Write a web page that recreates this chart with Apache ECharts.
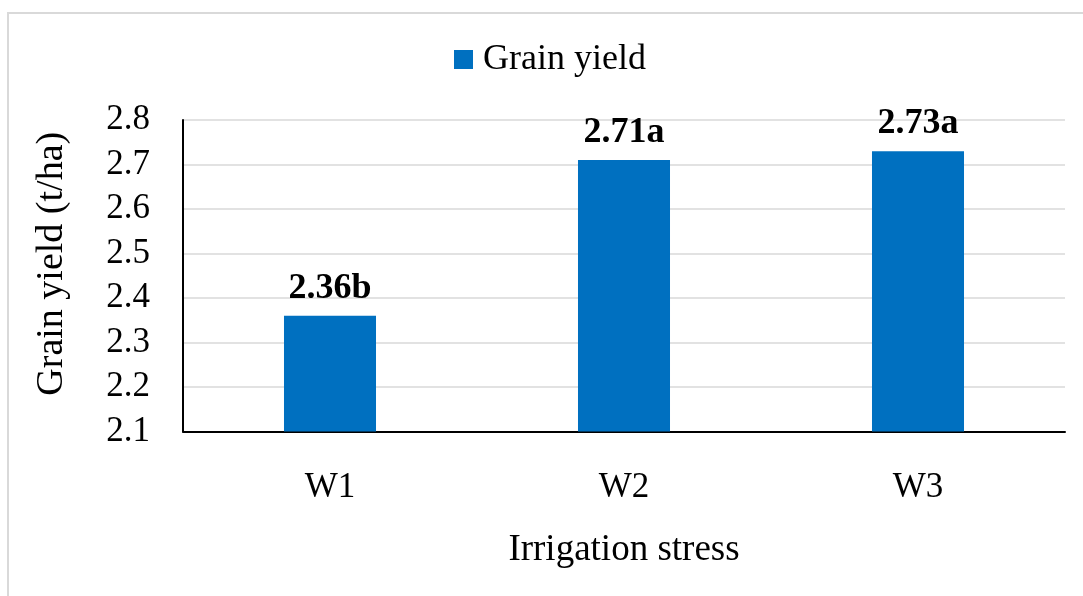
<!DOCTYPE html>
<html>
<head>
<meta charset="utf-8">
<script src="https://cdn.jsdelivr.net/npm/echarts@6/dist/echarts.min.js"></script>
<style>
html,body{margin:0;padding:0;background:#fff;}
#chart{width:1083px;height:596px;}
</style>
</head>
<body>
<div id="chart"></div>
<script>
const categories = ['W1', 'W2', 'W3'];
const grainYield = [2.36, 2.71, 2.73];
const sigLetters = ['b', 'a', 'a'];
const yTicks = [2.1, 2.2, 2.3, 2.4, 2.5, 2.6, 2.7, 2.8];
const seriesName = 'Grain yield';
const xTitle = 'Irrigation stress';
const yTitle = 'Grain yield (t/ha)';

const FONT = '"Liberation Serif", "Times New Roman", serif';
const chart = echarts.init(document.getElementById('chart'), null, {renderer: 'canvas'});
chart.setOption({
  backgroundColor: '#ffffff',
  animation: false,
  textStyle: {fontFamily: FONT, color: '#000'},
  graphic: [{
    type: 'rect', silent: true, z: -1,
    shape: {x: 8, y: 13, width: 1200, height: 700},
    style: {fill: 'none', stroke: '#d9d9d9', lineWidth: 2}
  }],
  legend: {
    left: 449, top: 36.5,
    itemWidth: 19, itemHeight: 19,
    icon: 'rect',
    data: [seriesName],
    textStyle: {fontFamily: FONT, fontSize: 36, color: '#000', lineHeight: 36, padding: [0, 0, 0, 5]}
  },
  grid: {left: 183, right: 18, top: 120, bottom: 164.5, containLabel: false},
  xAxis: {
    type: 'category',
    data: categories,
    name: xTitle,
    nameLocation: 'middle',
    nameGap: 100,
    nameTextStyle: {fontFamily: FONT, fontSize: 37, color: '#000', lineHeight: 37},
    axisLine: {show: true, lineStyle: {color: '#000', width: 2}},
    axisTick: {show: false},
    axisLabel: {fontFamily: FONT, fontSize: 35, color: '#000', margin: 39, lineHeight: 35},
    splitLine: {show: false}
  },
  yAxis: {
    type: 'value',
    min: yTicks[0], max: yTicks[yTicks.length - 1], interval: 0.1,
    name: yTitle,
    nameLocation: 'middle',
    nameRotate: 90,
    nameGap: 112,
    nameTextStyle: {fontFamily: FONT, fontSize: 38, color: '#000', lineHeight: 38, padding: [0, 0, 0, 24]},
    axisLine: {show: true, lineStyle: {color: '#000', width: 2}},
    axisTick: {show: false},
    axisLabel: {fontFamily: FONT, fontSize: 35, color: '#000', margin: 33, padding: [5, 0, 0, 0], formatter: v => v.toFixed(1)},
    splitLine: {show: true, lineStyle: {color: '#d9d9d9', width: 1.5}}
  },
  series: [{
    name: seriesName,
    type: 'bar',
    data: grainYield,
    barWidth: '31.3%',
    itemStyle: {color: '#0070C0'},
    label: {
      show: true,
      position: 'top',
      distance: 9,
      fontFamily: FONT,
      fontSize: 36,
      fontWeight: 'bold',
      color: '#000',
      formatter: p => p.value.toFixed(2) + sigLetters[p.dataIndex]
    }
  }]
});
</script>
</body>
</html>
